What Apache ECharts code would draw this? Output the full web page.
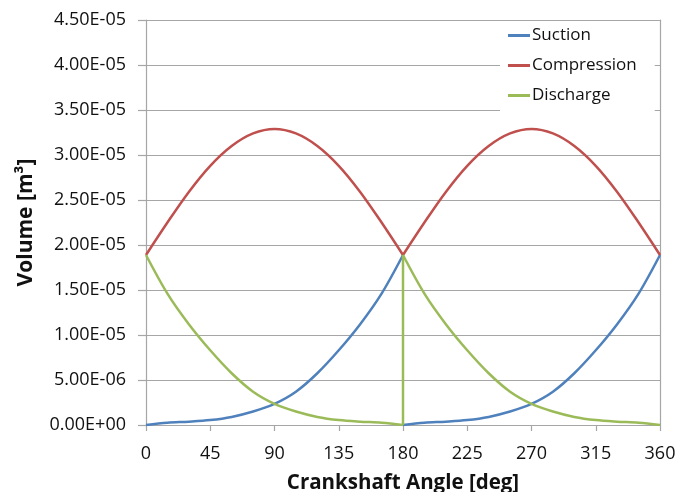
<!DOCTYPE html>
<html>
<head>
<meta charset="utf-8">
<title>Volume vs Crankshaft Angle</title>
<script src="https://cdn.jsdelivr.net/npm/echarts@6/dist/echarts.min.js"></script>
<style>
  html, body { margin: 0; padding: 0; background: #fff; }
  #chart { width: 679px; height: 492px; }
</style>
</head>
<body>
<div id="chart"></div>
<script>
// angles in degrees, one half revolution each
const anglesA = [0, 15, 30, 45, 60, 75, 90, 105, 120, 135, 150, 165, 180]
const anglesB = [180, 195, 210, 225, 240, 255, 270, 285, 300, 315, 330, 345, 360]

// volumes [m3]
const suctionA = [0, 2.5e-7, 3.7e-7, 5.5e-7, 9.0e-7, 1.5e-6, 2.35e-6, 3.7e-6, 5.75e-6, 8.3e-6, 1.12e-5, 1.46e-5, 1.889e-5]
const suctionB = [0, 2.5e-7, 3.7e-7, 5.5e-7, 9.0e-7, 1.5e-6, 2.35e-6, 3.7e-6, 5.75e-6, 8.3e-6, 1.12e-5, 1.46e-5, 1.889e-5]
const compressionA = [1.889e-5, 2.25e-5, 2.59e-5, 2.88e-5, 3.10e-5, 3.24e-5, 3.29e-5, 3.24e-5, 3.10e-5, 2.88e-5, 2.59e-5, 2.25e-5, 1.889e-5]
const compressionB = [1.889e-5, 2.25e-5, 2.59e-5, 2.88e-5, 3.10e-5, 3.24e-5, 3.29e-5, 3.24e-5, 3.10e-5, 2.88e-5, 2.59e-5, 2.25e-5, 1.889e-5]
const dischargeA = [1.889e-5, 1.46e-5, 1.12e-5, 8.3e-6, 5.75e-6, 3.7e-6, 2.35e-6, 1.5e-6, 9.0e-7, 5.5e-7, 3.7e-7, 2.5e-7, 0]
const dischargeB = [1.889e-5, 1.46e-5, 1.12e-5, 8.3e-6, 5.75e-6, 3.7e-6, 2.35e-6, 1.5e-6, 9.0e-7, 5.5e-7, 3.7e-7, 2.5e-7, 0]
const dischargeJump = [[180, 0], [180, 1.889e-5]]

const xTicks = [0, 45, 90, 135, 180, 225, 270, 315, 360]
const seriesNames = ['Suction', 'Compression', 'Discharge']
const colors = { Suction: '#4F81BD', Compression: '#C0504D', Discharge: '#9BBB59' }

function pairs(xs, ys) {
  return xs.map((x, i) => [x, ys[i]])
}

function sci(v) {
  if (v === 0) return '0.00E+00'
  const s = v.toExponential(2).toUpperCase()
  const parts = s.split('E')
  const sign = parts[1][0] === '-' ? '-' : '+'
  let exp = parts[1].replace('+', '').replace('-', '')
  if (exp.length < 2) exp = '0' + exp
  return parts[0] + 'E' + sign + exp
}

function curve(name, data, smooth) {
  return {
    name: name,
    type: 'line',
    data: data,
    smooth: smooth,
    symbol: 'none',
    lineStyle: { color: colors[name], width: 2.5 },
    itemStyle: { color: colors[name] },
    animation: false
  }
}

const myChart = echarts.init(document.getElementById('chart'))
const font = '"Open Sans", "Liberation Sans", sans-serif'

const option = {
  backgroundColor: '#fff',
  grid: {
    left: 146,
    right: 19,
    top: 20,
    bottom: 67,
    outerBoundsMode: 'none'
  },
  legend: {
    data: seriesNames.map((n) => ({ name: n, icon: 'rect' })),
    orient: 'vertical',
    left: 500,
    top: 22,
    itemWidth: 22,
    itemHeight: 3,
    itemGap: 11,
    padding: [4, 18, 6, 8],
    backgroundColor: '#fff',
    textStyle: {
      fontFamily: font,
      fontSize: 17,
      color: '#111',
      lineHeight: 19,
      padding: [0, 0, 0, -3]
    }
  },
  xAxis: {
    type: 'value',
    min: 0,
    max: 360,
    interval: 45,
    name: 'Crankshaft Angle [deg]',
    nameLocation: 'middle',
    nameGap: 48,
    nameTextStyle: {
      fontFamily: font,
      fontSize: 20.5,
      fontWeight: 'bold',
      color: '#111'
    },
    axisLine: { show: true, lineStyle: { color: '#A6A6A6', width: 1.2 } },
    axisTick: { show: true, length: 6, lineStyle: { color: '#A6A6A6', width: 1.2 } },
    axisLabel: {
      fontFamily: font,
      fontSize: 18,
      color: '#111',
      margin: 20,
      customValues: xTicks
    },
    splitLine: { show: false }
  },
  yAxis: [
    {
      type: 'value',
      min: 0,
      max: 4.5e-5,
      interval: 5e-6,
      name: 'Volume [m³]',
      nameLocation: 'middle',
      nameGap: 109,
      nameTextStyle: {
        fontFamily: font,
        fontSize: 21,
        fontWeight: 'bold',
        color: '#111'
      },
      axisLine: { show: true, lineStyle: { color: '#A6A6A6', width: 1.2 } },
      axisTick: { show: true, length: 8, lineStyle: { color: '#A6A6A6', width: 1.2 } },
      axisLabel: {
        fontFamily: font,
        fontSize: 18,
        color: '#111',
        margin: 20,
        formatter: sci
      },
      splitLine: { show: true, lineStyle: { color: '#A6A6A6', width: 1.2 } }
    },
    {
      type: 'value',
      position: 'right',
      min: 0,
      max: 4.5e-5,
      interval: 5e-6,
      axisLine: { show: true, lineStyle: { color: '#A6A6A6', width: 1.2 } },
      axisTick: { show: false },
      axisLabel: { show: false },
      splitLine: { show: false }
    }
  ],
  series: [
    curve('Suction', pairs(anglesA, suctionA), 0.33),
    curve('Suction', pairs(anglesB, suctionB), 0.33),
    curve('Compression', pairs(anglesA, compressionA), 0.33),
    curve('Compression', pairs(anglesB, compressionB), 0.33),
    curve('Discharge', pairs(anglesA, dischargeA), 0.33),
    curve('Discharge', dischargeJump, false),
    curve('Discharge', pairs(anglesB, dischargeB), 0.33)
  ]
}

myChart.setOption(option)
</script>
</body>
</html>
